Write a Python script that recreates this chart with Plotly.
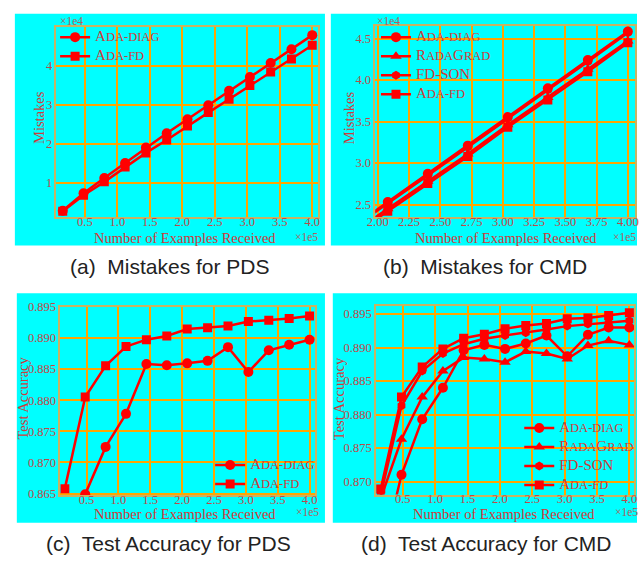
import plotly.graph_objects as go

W, H = 641, 565

# ---------------- data ----------------
x_pds = [0.16, 0.48, 0.80, 1.12, 1.44, 1.76, 2.08, 2.40, 2.72, 3.04, 3.36, 3.68, 4.00]
x_cmd_mist = [1.76, 2.08, 2.40, 2.72, 3.04, 3.36, 3.68, 4.00]
x_cmd = [0.16, 0.48, 0.80, 1.12, 1.44, 1.76, 2.08, 2.40, 2.72, 3.04, 3.36, 3.68, 4.00]

# (a) mistakes PDS (x1e4)
mist_pds_diag = [0.29, 0.74, 1.13, 1.51, 1.91, 2.27, 2.63, 2.99, 3.36, 3.71, 4.07, 4.42, 4.78]
mist_pds_fd = [0.28, 0.69, 1.03, 1.41, 1.77, 2.10, 2.46, 2.80, 3.14, 3.49, 3.84, 4.17, 4.52]

# (b) mistakes CMD (x1e4)
mist_cmd_diag = [2.19, 2.53, 2.87, 3.21, 3.555, 3.90, 4.24, 4.585]
mist_cmd_rada = [2.12, 2.45, 2.78, 3.11, 3.46, 3.79, 4.13, 4.47]
mist_cmd_fdson = [2.18, 2.51, 2.85, 3.19, 3.54, 3.88, 4.22, 4.57]
mist_cmd_fd = [2.09, 2.42, 2.755, 3.08, 3.43, 3.76, 4.10, 4.45]

# (c) test accuracy PDS
acc_pds_diag = [0.850, 0.8649, 0.8725, 0.8778, 0.8858, 0.8856, 0.8859, 0.8863, 0.8885, 0.8845, 0.8880, 0.8889, 0.8897]
acc_pds_fd = [0.8658, 0.8805, 0.8855, 0.8886, 0.8897, 0.8903, 0.8914, 0.8916, 0.8919, 0.8926, 0.8928, 0.8931, 0.8935]

# (d) test accuracy CMD
acc_cmd_diag = [0.858, 0.8710, 0.8793, 0.8840, 0.8896, 0.8904, 0.8898, 0.8906, 0.8918, 0.8887, 0.8919, 0.8930, 0.8930]
acc_cmd_rada = [0.8675, 0.8763, 0.8826, 0.8865, 0.8885, 0.8883, 0.8878, 0.8894, 0.8891, 0.8883, 0.8903, 0.8910, 0.8904]
acc_cmd_fdson = [0.8680, 0.8813, 0.8865, 0.8891, 0.8905, 0.8913, 0.8918, 0.8922, 0.8927, 0.8932, 0.8935, 0.8937, 0.8940]
acc_cmd_fd = [0.8689, 0.8826, 0.8871, 0.8898, 0.8914, 0.8920, 0.8928, 0.8933, 0.8936, 0.8943, 0.8944, 0.8948, 0.8952]

xticks_pds = [0.5, 1.0, 1.5, 2.0, 2.5, 3.0, 3.5, 4.0]
xticks_cmd_mist = [2.00, 2.25, 2.50, 2.75, 3.00, 3.25, 3.50, 3.75, 4.00]
yticks_a = [1, 2, 3, 4]
yticks_b = [2.5, 3.0, 3.5, 4.0, 4.5]
yticks_c = [0.865, 0.870, 0.875, 0.880, 0.885, 0.890, 0.895]
yticks_d = [0.870, 0.875, 0.880, 0.885, 0.890, 0.895]

BIG = "<span style='font-size:15px'>{}</span>"
SC = "<span style='font-size:12.5px'>{}</span>"
name_diag = BIG.format("A") + SC.format("DA-DIAG")
name_fd = BIG.format("A") + SC.format("DA-FD")
name_rada = BIG.format("R") + SC.format("ADA") + BIG.format("G") + SC.format("RAD")
name_fdson = BIG.format("FD-SON")

captions = ["(a)\u00a0 Mistakes for PDS", "(b)\u00a0 Mistakes for CMD",
            "(c)\u00a0 Test Accuracy for PDS", "(d)\u00a0 Test Accuracy for CMD"]

# ---------------- style ----------------
RED = "#ff0000"
CYAN = "#00ffff"
GRID = "#ffa500"
FRAME = "#c8b464"
TICKC = "#c04848"
TITLEC = "#d03a3a"
SERIF = "Liberation Serif"

fig = go.Figure()

def px_x(p):
    return p / W

def px_y(p):
    return 1 - p / H

def add(x, y, name, symbol, size, xa, ya, leg):
    fig.add_trace(go.Scatter(
        x=x, y=y, name=name, mode="lines+markers",
        line=dict(color=RED, width=2.5),
        marker=dict(symbol=symbol, size=size, color=RED, line=dict(width=0)),
        xaxis=xa, yaxis=ya, legend=leg))

add(x_pds, mist_pds_diag, name_diag, "circle", 10, "x", "y", "legend")
add(x_pds, mist_pds_fd, name_fd, "square", 9, "x", "y", "legend")

add(x_cmd_mist, mist_cmd_diag, name_diag, "circle", 10, "x2", "y2", "legend2")
add(x_cmd_mist, mist_cmd_rada, name_rada, "triangle-up", 10, "x2", "y2", "legend2")
add(x_cmd_mist, mist_cmd_fdson, name_fdson, "hexagon", 9, "x2", "y2", "legend2")
add(x_cmd_mist, mist_cmd_fd, name_fd, "square", 9, "x2", "y2", "legend2")

add(x_pds, acc_pds_diag, name_diag, "circle", 10, "x3", "y3", "legend3")
add(x_pds, acc_pds_fd, name_fd, "square", 9, "x3", "y3", "legend3")

add(x_cmd, acc_cmd_diag, name_diag, "circle", 10, "x4", "y4", "legend4")
add(x_cmd, acc_cmd_rada, name_rada, "triangle-up", 10, "x4", "y4", "legend4")
add(x_cmd, acc_cmd_fdson, name_fdson, "hexagon", 9, "x4", "y4", "legend4")
add(x_cmd, acc_cmd_fd, name_fd, "square", 9, "x4", "y4", "legend4")

def axis(domain, rng, tickvals, fmt, anchor, standoff):
    return dict(domain=domain, range=rng, tickvals=tickvals, tickformat=fmt,
                anchor=anchor, showgrid=True, gridcolor=GRID, gridwidth=1.5,
                showline=True, mirror=True, linecolor=FRAME, linewidth=1.5,
                zeroline=False, ticks="", ticklabelstandoff=standoff,
                tickfont=dict(family=SERIF, size=12.5, color=TICKC))

# panel pixel geometry (left, right, top, bottom)
A = (49.3, 316.0, 20.0, 215.0)
B = (374.3, 638.7, 19.5, 215.0)
C = (53.3, 313.3, 306.7, 500.0)
D = (375.0, 638.3, 306.0, 499.0)

def dx(g):
    return [px_x(g[0]), px_x(g[1])]

def dy(g):
    return [px_y(g[3]), px_y(g[2])]

XS, YS = -8, 0
fig.update_layout(
    xaxis=axis(dx(A), [0.062, 4.09], xticks_pds, ".1f", "y", XS),
    yaxis=axis(dy(A), [0.13, 5.0], yticks_a, "d", "x", YS),
    xaxis2=axis(dx(B), [1.98, 4.055], xticks_cmd_mist, ".2f", "y2", XS),
    yaxis2=axis(dy(B), [2.35, 4.65], yticks_b, ".1f", "x2", YS),
    xaxis3=axis(dx(C), [0.089, 4.092], xticks_pds, ".1f", "y3", XS),
    yaxis3=axis(dy(C), [0.8647, 0.895], yticks_c, ".3f", "x3", YS),
    xaxis4=axis(dx(D), [0.086, 4.077], xticks_pds, ".1f", "y4", XS),
    yaxis4=axis(dy(D), [0.86806, 0.89621], yticks_d, ".3f", "x4", YS),
)

legfont = dict(family=SERIF, size=11, color=TITLEC)
def leg(xp, yp):
    return dict(x=px_x(xp), y=px_y(yp), xanchor="left", yanchor="top",
                bgcolor="rgba(0,0,0,0)", borderwidth=0, font=legfont,
                tracegroupgap=0, itemwidth=30)

fig.update_layout(
    legend=leg(48, 16),
    legend2=leg(375, 16),
    legend3=leg(206, 454),
    legend4=leg(521, 416),
)

shapes = []
for (x0, x1, y0, y1) in [(7, 323, 7, 244), (329, 641, 7, 244), (9, 323, 293, 528), (331, 641, 293, 528)]:
    shapes.append(dict(type="rect", xref="paper", yref="paper", layer="below",
                       x0=px_x(x0), x1=px_x(x1), y0=px_y(y1), y1=px_y(y0),
                       fillcolor=CYAN, line=dict(width=0)))

ann = []
def text(s, xp, yp, size, color, family=SERIF, angle=0, xanchor="center"):
    ann.append(dict(text=s, x=px_x(xp), y=px_y(yp), xref="paper", yref="paper",
                    showarrow=False, xanchor=xanchor, yanchor="middle",
                    textangle=angle, font=dict(family=family, size=size, color=color)))

# x axis titles
for (xc, yc) in [(180, 236), (507, 236), (180, 519), (505, 519)]:
    text("Number of Examples Received", xc, yc, 14.5, TITLEC)
# y axis titles
text("Mistakes", 31.7, 113.5, 14.5, TITLEC, angle=-90)
text("Mistakes", 348.3, 113, 14.5, TITLEC, angle=-90)
text("Test Accuracy", 15, 400, 14.5, TITLEC, angle=-90)
text("Test Accuracy", 336.7, 401, 14.5, TITLEC, angle=-90)
# exponent labels
EXPC = "#b06060"
text("×1e4", 50.5, 14, 11.5, EXPC, xanchor="left")
text("×1e4", 374, 14, 11.5, EXPC, xanchor="left")
text("×1e5", 290, 235, 11.5, EXPC, xanchor="left")
text("×1e5", 615, 235, 11.5, EXPC, xanchor="left")
text("×1e5", 291, 517, 11.5, EXPC, xanchor="left")
text("×1e5", 617, 517, 11.5, EXPC, xanchor="left")
# captions
CAPF = "Liberation Sans"
text(captions[0], 165, 266, 21, "#222222", family=CAPF)
text(captions[1], 486, 266, 21, "#222222", family=CAPF)
text(captions[2], 164, 549, 21, "#222222", family=CAPF)
text(captions[3], 488, 549, 21, "#222222", family=CAPF)

fig.update_layout(
    width=W, height=H, margin=dict(l=0, r=0, t=0, b=0),
    paper_bgcolor="white", plot_bgcolor=CYAN,
    shapes=shapes, annotations=ann, showlegend=True,
)

fig.write_html("out.html", config={"displayModeBar": False},
               post_script="document.body.style.margin='0';document.body.style.overflow='hidden';")
